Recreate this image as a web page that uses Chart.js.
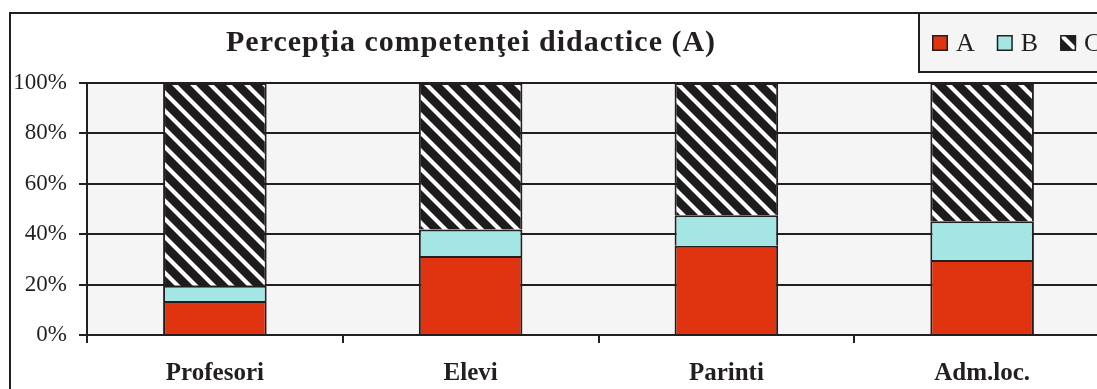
<!DOCTYPE html>
<html>
<head>
<meta charset="utf-8">
<script src="https://cdn.jsdelivr.net/npm/chart.js@4/dist/chart.umd.min.js"></script>
<style>
  html, body { margin: 0; padding: 0; background: #ffffff; overflow: hidden; }
  #wrap { width: 1097px; height: 389px; overflow: hidden; position: relative; }
  #chart { display: block; }
</style>
</head>
<body>
<div id="wrap"><canvas id="chart" width="1150" height="389"></canvas></div>
<script>
// Share of responses per group (percent), stacked to 100%
const categories = ['Profesori', 'Elevi', 'Parinti', 'Adm.loc.'];
const seriesA = [13.5, 31.3, 35.4, 29.8];
const seriesB = [6.0, 10.6, 12.1, 15.3];
const seriesC = [80.5, 58.1, 52.5, 54.9];
const seriesNames = ['A', 'B', 'C'];
const yTickLabels = ['0%', '20%', '40%', '60%', '80%', '100%'];
const chartTitle = 'Percepţia competenţei didactice (A)';

const INK = '#231f20';
const SERIF = '"Liberation Serif", "Times New Roman", serif';

// Black fill with white "\" diagonal stripes
function hatchPattern(period, stripe) {
  const tile = document.createElement('canvas');
  tile.width = tile.height = period;
  const g = tile.getContext('2d');
  g.fillStyle = '#1e1c1c';
  g.fillRect(0, 0, period, period);
  g.strokeStyle = '#ffffff';
  g.lineWidth = stripe;
  g.beginPath();
  for (let k = -1; k <= 1; k++) {
    g.moveTo(k * period - 3, -3);
    g.lineTo(k * period + period + 3, period + 3);
  }
  g.stroke();
  return g.createPattern(tile, 'repeat');
}

const canvas = document.getElementById('chart');
const W = canvas.width, H = canvas.height;

// Outer frame, plot background, title and the boxed legend
const decor = {
  id: 'decor',
  beforeDraw(chart) {
    const { ctx, chartArea: a } = chart;
    ctx.save();
    ctx.fillStyle = '#ffffff';
    ctx.fillRect(0, 0, W, H);
    ctx.fillStyle = '#f5f5f5';
    ctx.fillRect(a.left, a.top, a.right - a.left, a.bottom - a.top);
    ctx.strokeStyle = INK;
    ctx.lineWidth = 2;
    ctx.strokeRect(10, 13, W + 40, H + 40);
    ctx.restore();
  },
  afterDraw(chart) {
    const { ctx } = chart;
    ctx.save();
    // title
    ctx.fillStyle = INK;
    ctx.font = 'bold 30px ' + SERIF;
    ctx.textAlign = 'left';
    ctx.textBaseline = 'alphabetic';
    if ('letterSpacing' in ctx) ctx.letterSpacing = '1px';
    ctx.fillText(chartTitle, 226, 51);
    if ('letterSpacing' in ctx) ctx.letterSpacing = '0px';
    // legend box
    ctx.fillStyle = '#f5f5f5';
    ctx.fillRect(919, 13, W, 59);
    ctx.strokeStyle = INK;
    ctx.lineWidth = 2;
    ctx.strokeRect(919, 13, W, 59);
    // legend entries
    ctx.font = '26px ' + SERIF;
    let x = 932;
    chart.data.datasets.forEach(ds => {
      ctx.fillStyle = ds.backgroundColor;
      ctx.fillRect(x, 35, 16, 16);
      ctx.lineWidth = 1.5;
      ctx.strokeStyle = INK;
      ctx.strokeRect(x + 0.75, 35.75, 14.5, 14.5);
      ctx.fillStyle = INK;
      ctx.fillText(ds.label, x + 24, 51);
      x += 24 + ctx.measureText(ds.label).width + 22;
    });
    ctx.restore();
  }
};

const hatch = hatchPattern(18, 4.2);

new Chart(canvas, {
  type: 'bar',
  data: {
    labels: categories,
    datasets: [
      { label: seriesNames[0], data: seriesA, backgroundColor: '#e0330f' },
      { label: seriesNames[1], data: seriesB, backgroundColor: '#a3e6e3' },
      { label: seriesNames[2], data: seriesC, backgroundColor: hatch }
    ].map(d => Object.assign(d, {
      borderColor: INK,
      borderWidth: 2,
      categoryPercentage: 1.0,
      barPercentage: 0.405
    }))
  },
  options: {
    responsive: false,
    animation: false,
    events: [],
    layout: { padding: { top: 83, left: 0, right: W - 1110, bottom: 0 } },
    plugins: {
      legend: { display: false },
      title: { display: false },
      tooltip: { enabled: false }
    },
    scales: {
      x: {
        stacked: true,
        grid: { offset: true, drawOnChartArea: false, drawTicks: true, tickLength: 8, color: INK, lineWidth: 2 },
        border: { display: true, color: INK, width: 2 },
        ticks: { color: INK, padding: 16, font: { family: SERIF, size: 25, weight: 'bold' } },
        afterFit(s) { s.height = H - 335; }
      },
      y: {
        stacked: true,
        min: 0,
        max: 100,
        ticks: {
          stepSize: 20,
          color: INK,
          padding: 12,
          font: { family: SERIF, size: 23 },
          callback: (v, i) => yTickLabels[i]
        },
        grid: { color: INK, lineWidth: 2, tickLength: 8 },
        border: { display: true, color: INK, width: 2 },
        afterFit(s) { s.width = 87; }
      }
    }
  },
  plugins: [decor]
});
</script>
</body>
</html>
